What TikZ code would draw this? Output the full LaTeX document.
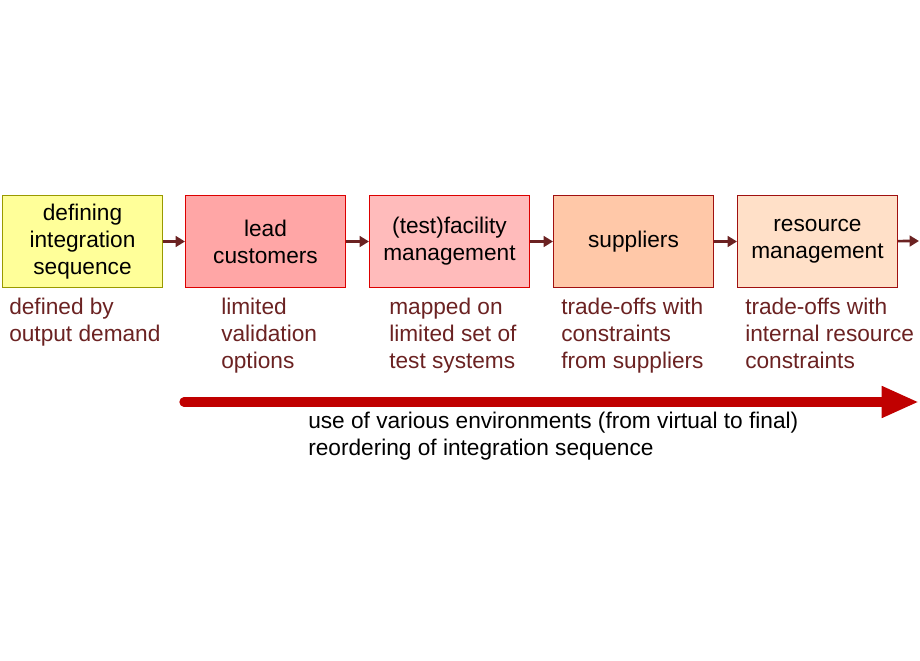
\documentclass[tikz,border=0pt]{standalone}
\usepackage{fontspec}
\setmainfont{Liberation Sans}
\usepackage{tikz}
\usetikzlibrary{arrows.meta}
\definecolor{txt}{HTML}{6B2222}
\definecolor{arr}{HTML}{6B2222}
\definecolor{big}{HTML}{C00000}
\definecolor{olv}{HTML}{999900}
\definecolor{redb}{HTML}{DC0000}
\definecolor{redc}{HTML}{A01010}
\definecolor{f1}{HTML}{FFFF99}
\definecolor{f2}{HTML}{FFA6A6}
\definecolor{f3}{HTML}{FFBBBB}
\definecolor{f4}{HTML}{FFC8A8}
\definecolor{f5}{HTML}{FFE0C8}
\begin{document}
\begin{tikzpicture}[x=0.75pt,y=-0.75pt,
  box/.style={draw=#1,line width=0.75pt,minimum width=120pt,minimum height=69pt,inner sep=0pt,align=center,font=\fontsize{17}{20.3}\selectfont,anchor=north west},
  lab/.style={anchor=north west,align=left,text=txt,inner sep=0pt,font=\fontsize{17}{20.3}\selectfont},
  con/.style={draw=arr,line width=2pt,-{Triangle[length=7pt,width=8pt]}}]
\useasboundingbox (0,0) rectangle (920,660);
\node[box=olv,fill=f1] (b1) at (2,195) {defining\\integration\\sequence};
\node[box=redb,fill=f2] (b2) at (185,195) {lead\\customers};
\node[box=redb,fill=f3] (b3) at (369,195) {(test)facility\\management};
\node[box=redc,fill=f4] (b4) at (553,195) {suppliers};
\node[box=redc,fill=f5] (b5) at (737,195) {resource\\management};
\coordinate (end) at (919,241);
\draw[con] (b1) -- (b2);
\draw[con] (b2) -- (b3);
\draw[con] (b3) -- (b4);
\draw[con] (b4) -- (b5);
\draw[con] (b5) -- (end);
\node[lab] (t1) at (9,298) {defined by\\output demand};
\node[lab] (t2) at (221,298) {limited\\validation\\options};
\node[lab] (t3) at (389,298) {mapped on\\limited set of\\test systems};
\node[lab] (t4) at (561,298) {trade-offs with\\constraints\\from suppliers};
\node[lab] (t5) at (745,298) {trade-offs with\\internal resource\\constraints};
\coordinate (a0) at (184,402);
\coordinate (a1) at (919,402);
\draw[big,line width=7pt,line cap=round,-{Triangle[length=28pt,width=22pt]}] (a0) -- (a1);
\node[lab,text=black] (t6) at (308,412) {use of various environments (from virtual to final)\\reordering of integration sequence};
\end{tikzpicture}
\end{document}
